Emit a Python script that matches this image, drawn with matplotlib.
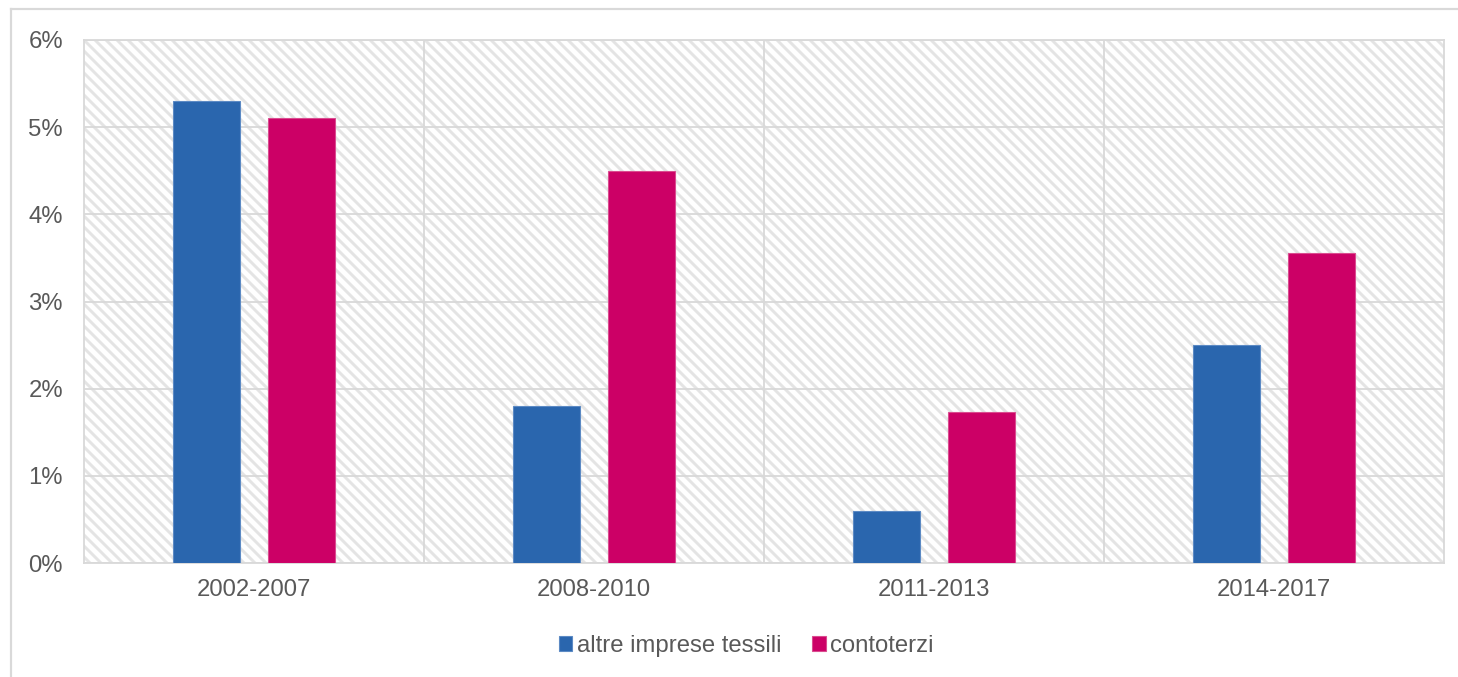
import matplotlib
matplotlib.use("Agg")
import matplotlib.pyplot as plt
from matplotlib.patches import Rectangle
from matplotlib.lines import Line2D
from matplotlib.ticker import FuncFormatter, FixedLocator
import numpy as np

categories = ["2002-2007", "2008-2010", "2011-2013", "2014-2017"]
altre = [5.30, 1.80, 0.60, 2.50]
contoterzi = [5.10, 4.50, 1.73, 3.56]
series_names = ["altre imprese tessili", "contoterzi"]
colors = ["#2A66AE", "#CC0066"]

DPI = 132
plt.rcParams['font.family'] = ['Liberation Sans', 'DejaVu Sans']
plt.rcParams['hatch.linewidth'] = 1.6
TXT = "#595959"
GRID = "#D9D9D9"

fig = plt.figure(figsize=(1458 / DPI, 677 / DPI), dpi=DPI)
ax = fig.add_axes([84 / 1458, 1 - 563 / 677, (1444 - 84) / 1458, (563 - 40) / 677])
ax.set_facecolor("white")

# hatched background
bg = Rectangle((0, 0), 1, 1, transform=ax.transAxes, facecolor="white",
               edgecolor="#E4E4E4", hatch="\\\\\\\\", linewidth=0, zorder=0)
ax.add_patch(bg)

x = np.arange(len(categories))
w = 0.197
off = 0.14
ax.bar(x - off, altre, w, color=colors[0], edgecolor="#5C8AC4", linewidth=0.6,
       label=series_names[0], zorder=3)
ax.bar(x + off, contoterzi, w, color=colors[1], edgecolor="#DA4C8F", linewidth=0.6,
       label=series_names[1], zorder=3)

ax.set_xlim(-0.5, 3.5)
ax.set_ylim(0, 6)
ax.set_yticks(np.arange(0, 7, 1))
ax.yaxis.set_major_formatter(FuncFormatter(lambda v, p: f"{int(v)}%"))
ax.set_xticks(x)
ax.set_xticklabels(categories)
ax.xaxis.set_minor_locator(FixedLocator([0.5, 1.5, 2.5]))

ax.grid(axis="y", which="major", color=GRID, linewidth=1.0, zorder=1)
ax.grid(axis="x", which="minor", color=GRID, linewidth=1.0, zorder=1)
ax.set_axisbelow(True)

ax.tick_params(axis="both", which="both", length=0, labelsize=13, colors=TXT)
ax.tick_params(axis="y", pad=11.5)
ax.tick_params(axis="x", pad=9)

for s in ax.spines.values():
    s.set_color(GRID)
    s.set_linewidth(1.0)

leg = fig.legend(loc="center", bbox_to_anchor=(0.512, 1 - 646 / 677), ncol=2,
                 frameon=False, fontsize=13, handlelength=0.55, handleheight=0.55,
                 handletextpad=0.2, columnspacing=1.3, labelcolor=TXT)

# outer chart border (left and top edges visible)
fig.add_artist(Line2D([11 / 1458, 11 / 1458], [0, 1 - 9 / 677], transform=fig.transFigure,
                      color=GRID, linewidth=1.2))
fig.add_artist(Line2D([11 / 1458, 1], [1 - 9 / 677, 1 - 9 / 677], transform=fig.transFigure,
                      color=GRID, linewidth=1.2))

fig.savefig("out.png", dpi=DPI)
